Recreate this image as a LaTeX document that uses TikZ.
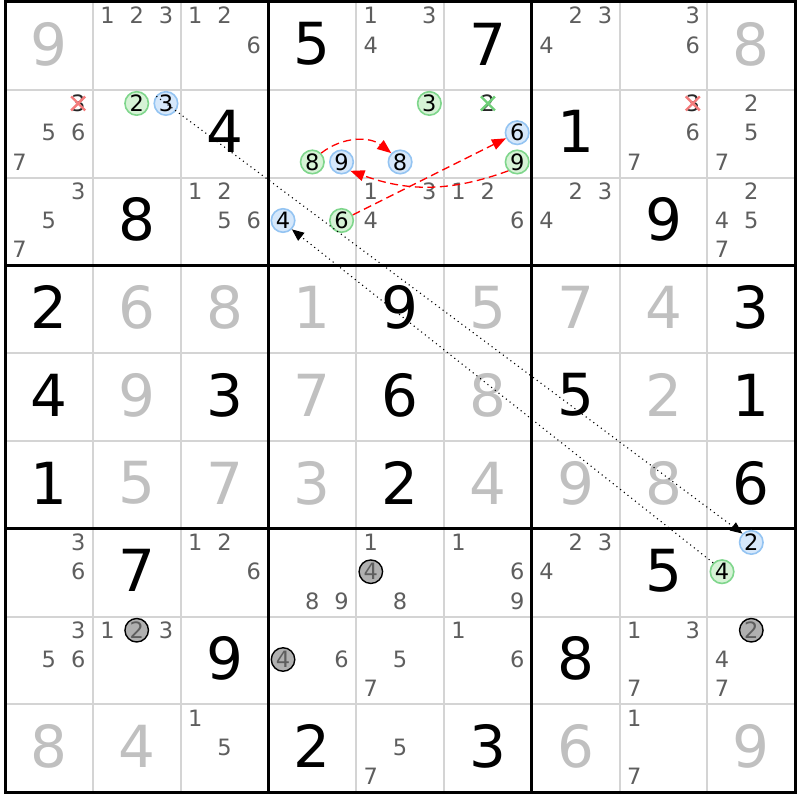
\documentclass[tikz,border=0pt]{standalone}
\usepackage{fontspec}
\setmainfont{DejaVu Sans}
\usetikzlibrary{arrows.meta}
\definecolor{thingrid}{HTML}{D4D4D4}
\definecolor{givengray}{HTML}{C0C0C0}
\definecolor{candgray}{HTML}{5E5E5E}
\definecolor{gfill}{HTML}{D6F3D6}
\definecolor{gdraw}{HTML}{7FD68C}
\definecolor{bfill}{HTML}{D6E8FB}
\definecolor{bdraw}{HTML}{94C4F2}
\definecolor{kfill}{HTML}{B0B0B0}
\definecolor{xred}{HTML}{F47C7C}
\definecolor{xgreen}{HTML}{6FCF78}
\definecolor{linkred}{HTML}{FF0000}
\newcommand\bigdig[4]{%
  \pgfmathsetmacro\pbx{5+(#2-0.5)*87.8}%
  \pgfmathsetmacro\pby{2+(#1-0.5)*87.8-2}%
  \node[#4] (b#1#2) at (\pbx,\pby) {#3};}
\newcommand\cand[5][candst]{%
  \pgfmathsetmacro\pbx{5+(#3-1)*87.8+(mod(#4-1,3)+0.5)*29.267}%
  \pgfmathsetmacro\pby{2+(#2-1)*87.8+(floor((#4-1)/3)+0.5)*29.267-1}%
  \node[#1] (k#2#3#4) at (\pbx,\pby) {#5};}
\tikzset{
  candst/.style={text=candgray, font=\fontsize{22.5}{22.5}\selectfont, inner sep=0pt},
  candx/.style={candst, text=black!85},
  gcirc/.style={candst, circle, draw=gdraw, fill=gfill, line width=1.6pt, minimum size=23.5pt, text=black},
  bcirc/.style={gcirc, draw=bdraw, fill=bfill},
  kcirc/.style={gcirc, draw=black, fill=kfill, line width=1.4pt, text=candgray},
  bigblack/.style={font=\fontsize{58}{58}\selectfont, text=black, inner sep=0pt},
  biggray/.style={bigblack, text=givengray},
  thinline/.style={draw=thingrid, line width=2pt},
  thickline/.style={draw=black, line width=3pt},
  xr/.style={draw=xred, line width=2.4pt},
  xg/.style={draw=xgreen, line width=2.4pt},
  dotlink/.style={draw=black, line width=1.1pt, dash pattern=on 1.1pt off 3.6pt, -{Triangle[length=12pt,width=10pt]}},
  redlink/.style={draw=linkred, line width=1.3pt, dash pattern=on 8pt off 4.5pt, -{Triangle[length=14pt,width=11pt]}}
}
\begin{document}
\begin{tikzpicture}[x=1pt,y=-1pt]
\useasboundingbox (0,0) rectangle (800,800);
\fill[white] (0,0) rectangle (800,800);
% grid
\foreach \i in {1,2,4,5,7,8}{
  \draw[thinline] (5+\i*87.8,2) -- (5+\i*87.8,792);
  \draw[thinline] (5,2+\i*87.8) -- (795,2+\i*87.8);
}
\foreach \i in {3,6}{
  \draw[thickline] (5+\i*87.8,2) -- (5+\i*87.8,792);
  \draw[thickline] (5,2+\i*87.8) -- (795,2+\i*87.8);
}
\draw[thickline] (5,2) rectangle (795,792);
% big digits
\bigdig{1}{1}{9}{biggray} \bigdig{1}{4}{5}{bigblack} \bigdig{1}{6}{7}{bigblack} \bigdig{1}{9}{8}{biggray}
\bigdig{2}{3}{4}{bigblack} \bigdig{2}{7}{1}{bigblack}
\bigdig{3}{2}{8}{bigblack} \bigdig{3}{8}{9}{bigblack}
\bigdig{4}{1}{2}{bigblack} \bigdig{4}{2}{6}{biggray} \bigdig{4}{3}{8}{biggray} \bigdig{4}{4}{1}{biggray} \bigdig{4}{5}{9}{bigblack} \bigdig{4}{6}{5}{biggray} \bigdig{4}{7}{7}{biggray} \bigdig{4}{8}{4}{biggray} \bigdig{4}{9}{3}{bigblack}
\bigdig{5}{1}{4}{bigblack} \bigdig{5}{2}{9}{biggray} \bigdig{5}{3}{3}{bigblack} \bigdig{5}{4}{7}{biggray} \bigdig{5}{5}{6}{bigblack} \bigdig{5}{6}{8}{biggray} \bigdig{5}{7}{5}{bigblack} \bigdig{5}{8}{2}{biggray} \bigdig{5}{9}{1}{bigblack}
\bigdig{6}{1}{1}{bigblack} \bigdig{6}{2}{5}{biggray} \bigdig{6}{3}{7}{biggray} \bigdig{6}{4}{3}{biggray} \bigdig{6}{5}{2}{bigblack} \bigdig{6}{6}{4}{biggray} \bigdig{6}{7}{9}{biggray} \bigdig{6}{8}{8}{biggray} \bigdig{6}{9}{6}{bigblack}
\bigdig{7}{2}{7}{bigblack} \bigdig{7}{8}{5}{bigblack}
\bigdig{8}{3}{9}{bigblack} \bigdig{8}{7}{8}{bigblack}
\bigdig{9}{1}{8}{biggray} \bigdig{9}{2}{4}{biggray} \bigdig{9}{4}{2}{bigblack} \bigdig{9}{6}{3}{bigblack} \bigdig{9}{7}{6}{biggray} \bigdig{9}{9}{9}{biggray}
% row 1 candidates
\cand{1}{2}{1}{1} \cand{1}{2}{2}{2} \cand{1}{2}{3}{3}
\cand{1}{3}{1}{1} \cand{1}{3}{2}{2} \cand{1}{3}{6}{6}
\cand{1}{5}{1}{1} \cand{1}{5}{3}{3} \cand{1}{5}{4}{4}
\cand{1}{7}{2}{2} \cand{1}{7}{3}{3} \cand{1}{7}{4}{4}
\cand{1}{8}{3}{3} \cand{1}{8}{6}{6}
% row 2
\cand[candx]{2}{1}{3}{3} \cand{2}{1}{5}{5} \cand{2}{1}{6}{6} \cand{2}{1}{7}{7}
\cand[gcirc]{2}{2}{2}{2} \cand[bcirc]{2}{2}{3}{3}
\cand[gcirc]{2}{4}{8}{8} \cand[bcirc]{2}{4}{9}{9}
\cand[gcirc]{2}{5}{3}{3} \cand[bcirc]{2}{5}{8}{8}
\cand[candx]{2}{6}{2}{2} \cand[bcirc]{2}{6}{6}{6} \cand[gcirc]{2}{6}{9}{9}
\cand[candx]{2}{8}{3}{3} \cand{2}{8}{6}{6} \cand{2}{8}{7}{7}
\cand{2}{9}{2}{2} \cand{2}{9}{5}{5} \cand{2}{9}{7}{7}
% row 3
\cand{3}{1}{3}{3} \cand{3}{1}{5}{5} \cand{3}{1}{7}{7}
\cand{3}{3}{1}{1} \cand{3}{3}{2}{2} \cand{3}{3}{5}{5} \cand{3}{3}{6}{6}
\cand[bcirc]{3}{4}{4}{4} \cand[gcirc]{3}{4}{6}{6}
\cand{3}{5}{1}{1} \cand{3}{5}{3}{3} \cand{3}{5}{4}{4}
\cand{3}{6}{1}{1} \cand{3}{6}{2}{2} \cand{3}{6}{6}{6}
\cand{3}{7}{2}{2} \cand{3}{7}{3}{3} \cand{3}{7}{4}{4}
\cand{3}{9}{2}{2} \cand{3}{9}{4}{4} \cand{3}{9}{5}{5} \cand{3}{9}{7}{7}
% row 7
\cand{7}{1}{3}{3} \cand{7}{1}{6}{6}
\cand{7}{3}{1}{1} \cand{7}{3}{2}{2} \cand{7}{3}{6}{6}
\cand{7}{4}{8}{8} \cand{7}{4}{9}{9}
\cand{7}{5}{1}{1} \cand[kcirc]{7}{5}{4}{4} \cand{7}{5}{8}{8}
\cand{7}{6}{1}{1} \cand{7}{6}{6}{6} \cand{7}{6}{9}{9}
\cand{7}{7}{2}{2} \cand{7}{7}{3}{3} \cand{7}{7}{4}{4}
\cand[bcirc]{7}{9}{2}{2} \cand[gcirc]{7}{9}{4}{4}
% row 8
\cand{8}{1}{3}{3} \cand{8}{1}{5}{5} \cand{8}{1}{6}{6}
\cand{8}{2}{1}{1} \cand[kcirc]{8}{2}{2}{2} \cand{8}{2}{3}{3}
\cand[kcirc]{8}{4}{4}{4} \cand{8}{4}{6}{6}
\cand{8}{5}{5}{5} \cand{8}{5}{7}{7}
\cand{8}{6}{1}{1} \cand{8}{6}{6}{6}
\cand{8}{8}{1}{1} \cand{8}{8}{3}{3} \cand{8}{8}{7}{7}
\cand[kcirc]{8}{9}{2}{2} \cand{8}{9}{4}{4} \cand{8}{9}{7}{7}
% row 9
\cand{9}{3}{1}{1} \cand{9}{3}{5}{5}
\cand{9}{5}{5}{5} \cand{9}{5}{7}{7}
\cand{9}{8}{1}{1} \cand{9}{8}{7}{7}
% crosses
\draw[xr] (k213.center) ++(-7,-7) -- ++(14,14) ++(0,-14) -- ++(-14,14);
\draw[xr] (k283.center) ++(-7,-7) -- ++(14,14) ++(0,-14) -- ++(-14,14);
\draw[xg] (k262.center) ++(-7,-7) -- ++(14,14) ++(0,-14) -- ++(-14,14);
% links
\draw[dotlink, shorten <=-12pt] (k223.center) -- (k792.north west);
\draw[dotlink] (k794.north west) -- (k344.south east);
\draw[redlink] (k248.north east) to[bend left=38] (k258.north west);
\draw[redlink] (k346) -- (k266);
\draw[redlink] (k269.south west) to[bend left=20] (k249.south east);
\end{tikzpicture}
\end{document}
